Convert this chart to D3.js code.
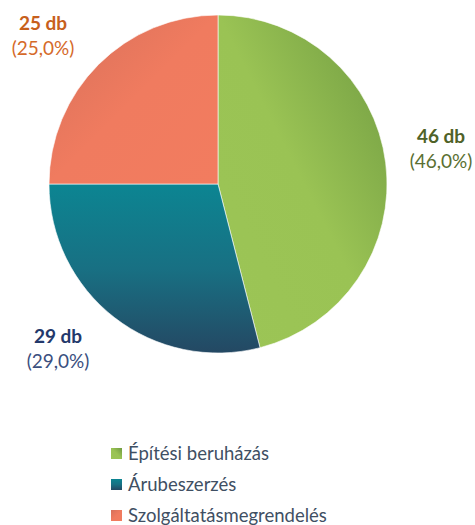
<!DOCTYPE html>
<html>
<head>
<meta charset="utf-8">
<script src="https://cdn.jsdelivr.net/npm/d3@7"></script>
<style>
  body { margin: 0; background: #fff; }
  text { font-family: Lato, "Open Sans", sans-serif; }
</style>
</head>
<body>
<svg id="chart" width="475" height="525"></svg>
<script>
const categories = ["Építési beruházás", "Árubeszerzés", "Szolgáltatásmegrendelés"];
const counts = [46, 29, 25];
const percentLabels = ["(46,0%)", "(29,0%)", "(25,0%)"];

const width = 475,
  height = 525,
  cx = 218,
  cy = 184,
  radius = 169;

// gradient stops per slice and direction
const grads = [
  { id: "g0", x1: "0%", y1: "100%", x2: "100%", y2: "0%", stops: ["#9cc556", "#9ac354", "#6f9a41"] },
  { id: "g1", x1: "0%", y1: "0%", x2: "0%", y2: "100%", stops: ["#0c8592", "#187083", "#244863"] },
  { id: "g2", x1: "100%", y1: "100%", x2: "0%", y2: "0%", stops: ["#f27c5f", "#f07b5f", "#d6705a"] }
];
const boldColors = ["#4f6228", "#23396b", "#c7601c"];
const normalColors = ["#5a6f32", "#3b4f80", "#d56a2a"];
// label anchor points (layout, relative to pie centre)
const labelOffsets = [[223, -41], [-160, 159], [-175, -154]];

const svg = d3.select("#chart");
const defs = svg.append("defs");

grads.forEach(function(g) {
  const lg = defs
    .append("linearGradient")
    .attr("id", g.id)
    .attr("x1", g.x1)
    .attr("y1", g.y1)
    .attr("x2", g.x2)
    .attr("y2", g.y2);
  g.stops.forEach(function(c, i) {
    lg.append("stop")
      .attr("offset", (i / (g.stops.length - 1)) * 100 + "%")
      .attr("stop-color", c);
  });
});

const pie = d3.pie().sort(null).value(function(d) { return d; });
const arc = d3.arc().innerRadius(0).outerRadius(radius);

const g = svg.append("g").attr("transform", "translate(" + cx + "," + cy + ")");

g.selectAll("path")
  .data(pie(counts))
  .enter()
  .append("path")
  .attr("d", arc)
  .attr("fill", function(d, i) { return "url(#" + grads[i].id + ")"; })
  .attr("stroke", "#fff")
  .attr("stroke-width", 0.6);

const labels = g
  .selectAll("g.lbl")
  .data(counts)
  .enter()
  .append("g")
  .attr("class", "lbl")
  .attr("transform", function(d, i) {
    return "translate(" + labelOffsets[i][0] + "," + labelOffsets[i][1] + ")";
  });

labels
  .append("text")
  .attr("text-anchor", "middle")
  .attr("font-size", 19)
  .attr("font-weight", "bold")
  .attr("fill", function(d, i) { return boldColors[i]; })
  .text(function(d) { return d + " db"; });

labels
  .append("text")
  .attr("text-anchor", "middle")
  .attr("y", 25)
  .attr("font-size", 19)
  .attr("fill", function(d, i) { return normalColors[i]; })
  .text(function(d, i) { return percentLabels[i]; });

// legend
const legendY = d3.scalePoint().domain(categories).range([454, 516]);

const legend = svg
  .selectAll("g.legend")
  .data(categories)
  .enter()
  .append("g")
  .attr("class", "legend")
  .attr("transform", function(d) { return "translate(111," + legendY(d) + ")"; });

legend
  .append("rect")
  .attr("x", 0)
  .attr("y", -6)
  .attr("width", 11)
  .attr("height", 11)
  .attr("fill", function(d, i) { return "url(#" + grads[i].id + ")"; });

legend
  .append("text")
  .attr("x", 17)
  .attr("y", 6)
  .attr("font-size", 18.5)
  .attr("fill", "#3f4f63")
  .text(function(d) { return d; });
</script>
</body>
</html>
